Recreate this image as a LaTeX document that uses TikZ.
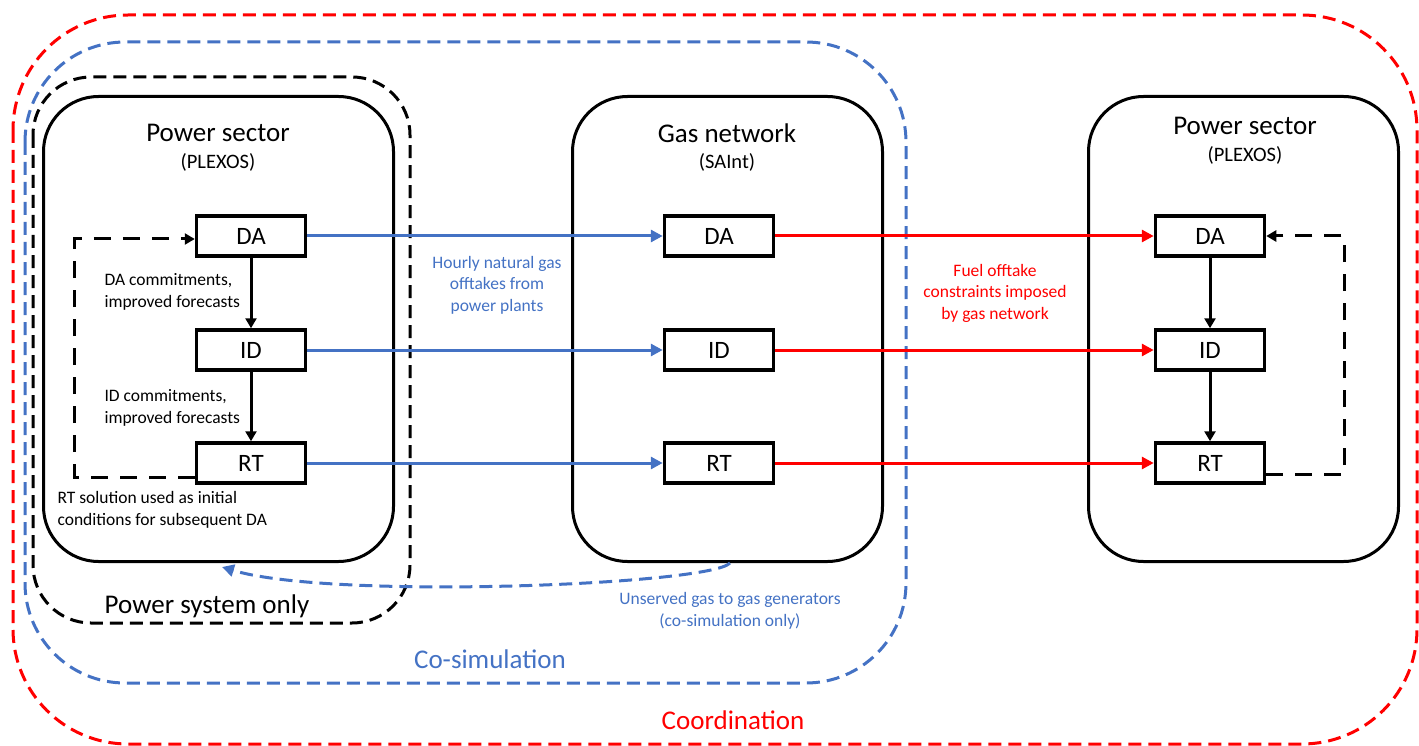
\documentclass[tikz,border=0pt]{standalone}
\usepackage{fontspec}
\setmainfont{Carlito}
\usetikzlibrary{positioning}
\usetikzlibrary{calc}
\usetikzlibrary{arrows.meta}

\definecolor{cosimblue}{HTML}{4472C4}
\definecolor{coordred}{HTML}{FF0000}

\tikzset{
    stage/.style={draw, line width=3.5pt, minimum width=109pt, minimum height=40pt, inner sep=0pt,
        font=\fontsize{25}{30}\selectfont},
    sector/.style={draw, line width=3pt, rounded corners=55pt, minimum height=465pt},
    title/.style={font=\fontsize{27}{32}\selectfont},
    tool/.style={font=\fontsize{20.5}{24}\selectfont},
    note/.style={font=\fontsize{17.5}{22}\selectfont, align=left, anchor=west},
    flownote/.style={font=\fontsize{17.5}{21.5}\selectfont, align=center},
    zone/.style={line width=3pt, dash pattern=on 13pt off 7pt},
    next/.style={-{Triangle[length=10pt,width=11pt]}, line width=3pt},
    loopback/.style={-{Triangle[length=10pt,width=11pt]}, line width=3pt, dash pattern=on 17pt off 12pt},
    gasflow/.style={-{Triangle[length=12pt,width=12pt]}, line width=3pt, cosimblue},
    fuelflow/.style={-{Triangle[length=12pt,width=12pt]}, line width=3pt, coordred},
}

\begin{document}
\begin{tikzpicture}[x=1pt, y=-1pt]
    \useasboundingbox (0,0) rectangle (1419,746);

    % nested scopes of the study
    \draw[zone, coordred] (13,15) [rounded corners=115pt] rectangle (1417,744);
    \draw[zone, cosimblue] (25,42) [rounded corners=100pt] rectangle (906,683);
    \draw[zone, black] (33,77) [rounded corners=58pt] rectangle (410,623);

    % models
    \node[sector, minimum width=350pt] (powerL) at (218.5,329) {};
    \node[sector, minimum width=310pt] (gas) at (727.5,329) {};
    \node[sector, minimum width=310pt] (powerR) at (1243.5,329) {};

    \node[title] (powerLname) at (218,133) {Power sector};
    \node[tool] (powerLtool) at (218,162) {(PLEXOS)};
    \node[title] (gasname) at (727,133) {Gas network};
    \node[tool] (gastool) at (727,162) {(SAInt)};
    \node[title] (powerRname) at (1245,126) {Power sector};
    \node[tool] (powerRtool) at (1245,155) {(PLEXOS)};

    % DA / ID / RT stages
    \foreach \m/\x in {l/251, g/719, r/1210} {
        \node[stage] (\m DA) at (\x,236) {DA};
        \node[stage] (\m ID) at (\x,350) {ID};
        \node[stage] (\m RT) at (\x,463) {RT};
    }

    \draw[next] (lDA) -- (lID);
    \draw[next] (lID) -- (lRT);
    \draw[next] (rDA) -- (rID);
    \draw[next] (rID) -- (rRT);

    \draw[loopback] ([yshift=-14pt]lRT.west) -- ++(-120,0) |- ([yshift=-3pt]lDA.west);
    \draw[loopback] ([yshift=-11pt]rRT.east) -- ++(78,0) |- (rDA.east);

    \foreach \s in {DA, ID, RT} {
        \draw[gasflow] (l\s) -- (g\s);
        \draw[fuelflow] (g\s) -- (r\s);
    }

    \draw[cosimblue, line width=3pt, dash pattern=on 13pt off 7pt, -{Triangle[length=12pt,width=12pt]}]
        (gas.south) ++(2.5,0) .. controls (710,585) and (330,600) .. (222,567);

    % labels
    \node[note] (daNote) at (101,292) {DA commitments,\\improved forecasts};
    \node[note] (idNote) at (101,408) {ID commitments,\\improved forecasts};
    \node[note] (rtNote) at (54,510) {RT solution used as initial\\conditions for subsequent DA};
    \node[flownote, cosimblue] (gasNote) at (497,285) {Hourly natural gas\\offtakes from\\power plants};
    \node[flownote, coordred] (fuelNote) at (995,293) {Fuel offtake\\constraints imposed\\by gas network};
    \node[flownote, cosimblue] (unservedNote) at (730,611) {Unserved gas to gas generators\\(co-simulation only)};

    \node[title] (psOnly) at (207,606) {Power system only};
    \node[title, cosimblue] (cosim) at (490,659) {Co-simulation};
    \node[title, coordred] (coord) at (733,720) {Coordination};
\end{tikzpicture}
\end{document}
